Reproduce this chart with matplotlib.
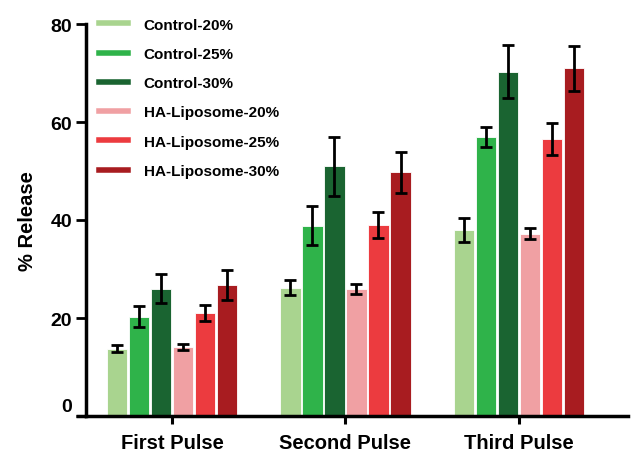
import matplotlib
matplotlib.use("Agg")
import matplotlib.pyplot as plt
from matplotlib.lines import Line2D
from matplotlib.transforms import ScaledTranslation
import numpy as np

plt.rcParams["font.family"] = ["Liberation Sans", "DejaVu Sans"]
plt.rcParams["font.weight"] = "bold"

pulses = ["First Pulse", "Second Pulse", "Third Pulse"]
series = ["Control-20%", "Control-25%", "Control-30%",
          "HA-Liposome-20%", "HA-Liposome-25%", "HA-Liposome-30%"]
colors = ["#a9d48f", "#2fb34a", "#1a6431", "#f0a0a3", "#ec3b3f", "#a81c20"]

control_20 = [13.7, 26.2, 38.0]
control_25 = [20.3, 38.8, 57.0]
control_30 = [26.0, 51.0, 70.3]
ha_20 = [14.0, 26.0, 37.2]
ha_25 = [21.0, 39.0, 56.5]
ha_30 = [26.7, 49.7, 71.0]

control_20_err = [0.7, 1.6, 2.5]
control_25_err = [2.2, 4.0, 2.0]
control_30_err = [3.0, 6.0, 5.4]
ha_20_err = [0.6, 1.0, 1.1]
ha_25_err = [1.7, 2.6, 3.3]
ha_30_err = [3.1, 4.2, 4.6]

values = [control_20, control_25, control_30, ha_20, ha_25, ha_30]
errors = [control_20_err, control_25_err, control_30_err, ha_20_err, ha_25_err, ha_30_err]

fig = plt.figure(figsize=(6.32, 4.52), dpi=100)
W, H = 632, 452
ax = fig.add_axes([86 / W, (H - 417) / H, (628 - 86) / W, (417 - 25) / H])

x = np.arange(len(pulses))
slot = 0.127
width = 0.118
for i, (vals, errs, c) in enumerate(zip(values, errors, colors)):
    offs = (i - 2.5) * slot
    ax.bar(x + offs, vals, width=width, color=c, edgecolor="white", linewidth=0.6, zorder=2)
    ax.errorbar(x + offs, vals, yerr=errs, fmt="none", ecolor="black",
                elinewidth=2.0, capsize=4, capthick=2.0, zorder=3)

ax.set_xlim(-0.497, 2.63)
ax.set_ylim(0, 80)
ax.set_yticks([0, 20, 40, 60, 80])
ax.set_xticks(x)
ax.set_xticklabels(pulses, fontsize=14.5, fontweight="bold")
ax.tick_params(axis="y", labelsize=14, width=2, length=7, pad=3)
ax.tick_params(axis="x", width=2.2, length=6, pad=6)
for lab in ax.get_yticklabels():
    lab.set_fontweight("bold")
# lift the zero label slightly above the baseline
ax.get_yticklabels()[0].set_transform(
    ax.get_yticklabels()[0].get_transform() + ScaledTranslation(0, 8 / 72, fig.dpi_scale_trans))

ax.set_ylabel("% Release", fontsize=14.5, fontweight="bold", labelpad=10)

for s in ["top", "right"]:
    ax.spines[s].set_visible(False)
for s in ["left", "bottom"]:
    ax.spines[s].set_linewidth(2.5)

# extend the baseline a little to the left of the y axis
ax.plot([-0.497 - 10 / 173.5, -0.497], [0, 0], color="black", linewidth=2.5,
        clip_on=False, solid_capstyle="butt", zorder=4)

handles = [Line2D([0], [0], color=c, linewidth=4) for c in colors]
leg = ax.legend(handles, series, loc="upper left",
                bbox_to_anchor=(91 / W, (H - 11) / H), bbox_transform=fig.transFigure,
                frameon=False, prop={"weight": "bold", "size": 11},
                handlelength=1.95, handletextpad=1.0, labelspacing=1.0, borderpad=0)

fig.savefig("out.png", dpi=100)
